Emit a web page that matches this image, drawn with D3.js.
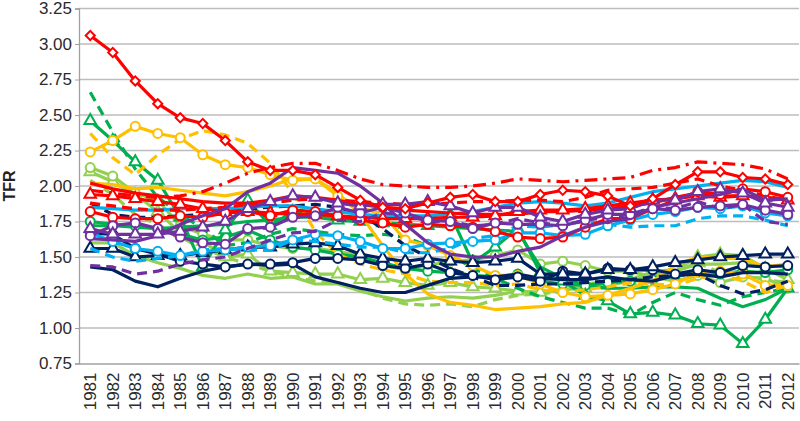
<!DOCTYPE html>
<html lang="en">
<head>
<meta charset="UTF-8">
<title>TFR 1981-2012</title>
<script src="https://cdn.jsdelivr.net/npm/d3@7"></script>
<style>
    html, body {
        margin: 0;
        padding: 0;
        background: #fff;
    }
    svg {
        display: block;
        font-family: "Liberation Sans", Arial, sans-serif;
    }
</style>
</head>
<body>
<svg id="chart" width="800" height="421"></svg>
<script>
    // categories and tick labels
    var years = ['1981','1982','1983','1984','1985','1986','1987','1988','1989','1990',
                 '1991','1992','1993','1994','1995','1996','1997','1998','1999','2000',
                 '2001','2002','2003','2004','2005','2006','2007','2008','2009','2010',
                 '2011','2012']
    var yTicks = [0.75, 1.00, 1.25, 1.50, 1.75, 2.00, 2.25, 2.50, 2.75, 3.00, 3.25]

    // series values
    var lgDashed   = [2.04,1.94,1.80,1.73,1.64,1.56,1.50,1.45,1.40,1.36,1.33,1.32,1.27,1.21,1.17,1.16,1.17,1.15,1.20,1.23,1.24,1.26,1.31,1.33,1.35,1.38,1.40,1.46,1.39,1.37,1.34,1.32]
    var lgSolid    = [1.60,1.60,1.51,1.46,1.42,1.37,1.35,1.38,1.35,1.36,1.31,1.31,1.26,1.22,1.19,1.21,1.22,1.21,1.23,1.26,1.25,1.27,1.29,1.34,1.34,1.37,1.40,1.45,1.45,1.46,1.44,1.43]
    var lgTriangle = [2.10,2.03,1.94,1.82,1.67,1.61,1.50,1.52,1.40,1.39,1.38,1.38,1.34,1.35,1.32,1.30,1.32,1.29,1.28,1.26,1.25,1.27,1.28,1.30,1.33,1.40,1.41,1.50,1.52,1.51,1.42,1.34]
    var lgCircle   = [2.13,2.07,1.95,1.90,1.72,1.66,1.62,1.62,1.58,1.56,1.56,1.54,1.51,1.44,1.41,1.44,1.47,1.48,1.51,1.55,1.45,1.47,1.44,1.40,1.40,1.36,1.33,1.37,1.32,1.36,1.35,1.28]

    var gDashed    = [2.66,2.38,2.12,1.92,1.80,1.70,1.58,1.60,1.66,1.70,1.68,1.66,1.65,1.66,1.64,1.58,1.52,1.42,1.35,1.28,1.22,1.18,1.14,1.14,1.09,1.18,1.25,1.20,1.16,1.22,1.25,1.28]
    var gSolid     = [1.72,1.72,1.71,1.70,1.71,1.72,1.73,1.75,1.76,1.78,1.78,1.76,1.75,1.74,1.73,1.72,1.71,1.70,1.69,1.68,1.43,1.35,1.30,1.28,1.28,1.29,1.29,1.28,1.21,1.15,1.20,1.28]
    var gCircle    = [1.75,1.73,1.72,1.70,1.66,1.62,1.64,1.69,1.62,1.57,1.55,1.52,1.50,1.46,1.42,1.40,1.39,1.37,1.36,1.38,1.33,1.31,1.30,1.32,1.33,1.34,1.37,1.40,1.38,1.40,1.39,1.41]
    var gTriangle  = [2.46,2.32,2.17,2.04,1.78,1.43,1.69,1.90,1.72,1.82,1.80,1.76,1.75,1.74,1.73,1.72,1.80,1.46,1.57,1.70,1.39,1.33,1.23,1.19,1.10,1.11,1.09,1.03,1.02,0.89,1.06,1.28]

    var oSolid     = [2.02,2.01,1.98,1.99,1.97,1.95,1.93,1.96,2.00,2.05,2.05,1.95,1.80,1.58,1.38,1.24,1.18,1.16,1.13,1.14,1.15,1.17,1.18,1.23,1.28,1.33,1.44,1.50,1.49,1.49,1.43,1.45]
    var oDashed    = [2.37,2.20,2.08,2.22,2.33,2.39,2.36,2.30,2.16,1.95,1.68,1.52,1.45,1.41,1.38,1.33,1.32,1.32,1.30,1.31,1.27,1.25,1.27,1.29,1.32,1.31,1.30,1.35,1.38,1.33,1.25,1.30]
    var oCircle    = [2.24,2.32,2.42,2.37,2.34,2.22,2.15,2.13,2.08,2.04,2.05,1.93,1.85,1.80,1.62,1.58,1.51,1.44,1.37,1.37,1.31,1.25,1.22,1.23,1.24,1.27,1.31,1.39,1.40,1.38,1.30,1.30]

    var nDashed    = [1.88,1.80,1.78,1.78,1.79,1.80,1.82,1.84,1.85,1.86,1.87,1.85,1.80,1.70,1.58,1.50,1.42,1.36,1.30,1.30,1.31,1.31,1.32,1.33,1.34,1.36,1.37,1.38,1.30,1.24,1.27,1.33]
    var nSolid     = [1.43,1.41,1.33,1.29,1.35,1.40,1.43,1.45,1.44,1.45,1.36,1.32,1.28,1.25,1.25,1.30,1.35,1.36,1.36,1.38,1.35,1.34,1.34,1.36,1.34,1.33,1.37,1.38,1.36,1.39,1.39,1.38]
    var nCircle    = [1.67,1.66,1.56,1.52,1.47,1.45,1.43,1.45,1.45,1.46,1.49,1.49,1.48,1.44,1.42,1.45,1.39,1.37,1.34,1.36,1.33,1.40,1.38,1.42,1.41,1.41,1.38,1.41,1.39,1.44,1.43,1.44]
    var nTriangle  = [1.56,1.56,1.50,1.51,1.51,1.53,1.55,1.57,1.57,1.59,1.60,1.58,1.52,1.49,1.47,1.49,1.47,1.46,1.47,1.49,1.38,1.38,1.38,1.41,1.41,1.43,1.46,1.48,1.50,1.51,1.52,1.52]

    var bSolid     = [1.85,1.84,1.83,1.83,1.84,1.84,1.84,1.85,1.86,1.86,1.84,1.82,1.80,1.79,1.79,1.79,1.80,1.82,1.85,1.88,1.89,1.88,1.86,1.88,1.92,1.96,1.98,2.00,2.02,2.04,2.03,1.99]
    var bDashed    = [1.56,1.50,1.47,1.49,1.51,1.55,1.56,1.55,1.55,1.62,1.61,1.59,1.57,1.57,1.53,1.53,1.56,1.63,1.65,1.72,1.71,1.73,1.75,1.73,1.71,1.72,1.72,1.77,1.79,1.79,1.76,1.72]
    var bCircle    = [1.67,1.61,1.56,1.54,1.51,1.54,1.55,1.57,1.58,1.62,1.66,1.65,1.61,1.56,1.56,1.59,1.60,1.61,1.62,1.67,1.67,1.65,1.66,1.72,1.76,1.80,1.82,1.85,1.84,1.86,1.81,1.79]

    var rSolid     = [2.02,1.98,1.95,1.93,1.91,1.89,1.88,1.88,1.90,1.93,1.92,1.90,1.87,1.85,1.83,1.82,1.81,1.80,1.80,1.80,1.82,1.82,1.83,1.84,1.86,1.88,1.92,1.95,1.93,1.93,1.92,1.90]
    var rDashed    = [1.88,1.86,1.84,1.83,1.83,1.84,1.85,1.87,1.88,1.90,1.91,1.90,1.89,1.88,1.87,1.87,1.88,1.89,1.89,1.90,1.90,1.89,1.92,1.97,1.98,1.99,2.02,2.05,2.00,1.97,1.93,1.90]
    var rDashDot   = [1.97,1.95,1.93,1.92,1.93,1.96,2.02,2.09,2.13,2.16,2.16,2.11,2.05,2.01,2.00,1.99,1.99,2.00,2.02,2.05,2.04,2.03,2.04,2.05,2.06,2.11,2.13,2.17,2.16,2.15,2.12,2.05]
    var rTriangle  = [1.94,1.93,1.91,1.89,1.87,1.84,1.82,1.82,1.81,1.80,1.80,1.79,1.78,1.77,1.77,1.77,1.78,1.78,1.79,1.82,1.83,1.83,1.84,1.86,1.88,1.90,1.91,1.93,1.92,1.93,1.92,1.90]
    var rCircle    = [1.82,1.78,1.77,1.77,1.79,1.78,1.81,1.82,1.79,1.83,1.82,1.79,1.76,1.74,1.71,1.73,1.72,1.71,1.68,1.64,1.63,1.64,1.71,1.77,1.77,1.84,1.90,1.96,1.94,1.98,1.96,1.92]
    var rDiamond   = [3.06,2.94,2.74,2.58,2.48,2.44,2.32,2.17,2.11,2.11,2.08,1.99,1.90,1.85,1.84,1.88,1.92,1.94,1.89,1.89,1.94,1.97,1.96,1.93,1.86,1.91,2.01,2.10,2.10,2.06,2.05,2.01]

    var pDashed    = [1.44,1.43,1.38,1.40,1.45,1.48,1.50,1.56,1.62,1.67,1.68,1.76,1.75,1.81,1.80,1.75,1.75,1.72,1.73,1.77,1.74,1.72,1.76,1.78,1.80,1.85,1.84,1.89,1.84,1.87,1.75,1.73]
    var pSolid     = [1.63,1.62,1.61,1.65,1.73,1.79,1.84,1.96,2.02,2.13,2.11,2.09,2.00,1.88,1.73,1.60,1.52,1.50,1.50,1.54,1.57,1.65,1.71,1.75,1.77,1.85,1.88,1.91,1.94,1.98,1.90,1.91]
    var pCircle    = [1.65,1.72,1.74,1.70,1.64,1.60,1.59,1.70,1.71,1.78,1.79,1.85,1.81,1.85,1.81,1.76,1.75,1.70,1.74,1.73,1.73,1.72,1.76,1.80,1.80,1.84,1.83,1.85,1.86,1.87,1.83,1.80]
    var pTriangle  = [1.70,1.66,1.66,1.66,1.68,1.71,1.75,1.84,1.89,1.93,1.92,1.88,1.86,1.87,1.87,1.89,1.86,1.81,1.85,1.85,1.78,1.75,1.80,1.83,1.84,1.90,1.90,1.96,1.98,1.95,1.88,1.85]

    // colours
    var colorLightGreen = '#92D050'
    var colorGreen = '#00B050'
    var colorGold = '#FFC000'
    var colorNavy = '#002060'
    var colorLightBlue = '#00B0F0'
    var colorRed = '#FF0000'
    var colorPurple = '#7030A0'

    var dashed = '10,6'
    var dashDot = '13,6,3,6'

    // drawing order, first is at the bottom
    var series = [
        {values: lgDashed,   color: colorLightGreen, dash: dashed,  marker: null},
        {values: lgSolid,    color: colorLightGreen, dash: null,    marker: null},
        {values: lgTriangle, color: colorLightGreen, dash: null,    marker: 'triangle'},
        {values: lgCircle,   color: colorLightGreen, dash: null,    marker: 'circle'},
        {values: gDashed,    color: colorGreen,      dash: dashed,  marker: null},
        {values: gSolid,     color: colorGreen,      dash: null,    marker: null},
        {values: gCircle,    color: colorGreen,      dash: null,    marker: 'circle'},
        {values: gTriangle,  color: colorGreen,      dash: null,    marker: 'triangle'},
        {values: oSolid,     color: colorGold,       dash: null,    marker: null},
        {values: oDashed,    color: colorGold,       dash: dashed,  marker: null},
        {values: oCircle,    color: colorGold,       dash: null,    marker: 'circle'},
        {values: nDashed,    color: colorNavy,       dash: dashed,  marker: null},
        {values: nSolid,     color: colorNavy,       dash: null,    marker: null},
        {values: nCircle,    color: colorNavy,       dash: null,    marker: 'circle'},
        {values: nTriangle,  color: colorNavy,       dash: null,    marker: 'triangle'},
        {values: bSolid,     color: colorLightBlue,  dash: null,    marker: null},
        {values: bDashed,    color: colorLightBlue,  dash: dashed,  marker: null},
        {values: bCircle,    color: colorLightBlue,  dash: null,    marker: 'circle'},
        {values: rSolid,     color: colorRed,        dash: null,    marker: null},
        {values: rDashed,    color: colorRed,        dash: dashed,  marker: null},
        {values: rDashDot,   color: colorRed,        dash: dashDot, marker: null},
        {values: rTriangle,  color: colorRed,        dash: null,    marker: 'triangle'},
        {values: rCircle,    color: colorRed,        dash: null,    marker: 'circle'},
        {values: pDashed,    color: colorPurple,     dash: dashed,  marker: null},
        {values: pSolid,     color: colorPurple,     dash: null,    marker: null},
        {values: pCircle,    color: colorPurple,     dash: null,    marker: 'circle'},
        {values: pTriangle,  color: colorPurple,     dash: null,    marker: 'triangle'},
        {values: rDiamond,   color: colorRed,        dash: null,    marker: 'diamond'}
    ]

    //
    // layout (plot box edges)
    //
    var plotLeft = 79, plotRight = 799, plotTop = 8.5, plotBottom = 363.5
    var svg = d3.select('#chart')

    var x = d3.scaleBand().domain(years).range([plotLeft, plotRight])
    var y = d3.scaleLinear().domain([0.75, 3.25]).range([plotBottom, plotTop])
    function cx(i) { return x(years[i]) + x.bandwidth() / 2 }

    // gridlines
    svg.append('g')
        .selectAll('line')
        .data(yTicks.slice(1))
        .enter().append('line')
        .attr('x1', plotLeft).attr('x2', plotRight)
        .attr('y1', function (d) { return y(d) }).attr('y2', function (d) { return y(d) })
        .attr('stroke', '#bdbdbd')
        .attr('stroke-width', 1.3)

    // y axis
    var yAxis = svg.append('g')
        .attr('transform', 'translate(' + plotLeft + ',0)')
        .call(d3.axisLeft(y).tickValues(yTicks).tickFormat(d3.format('.2f')).tickSize(4).tickPadding(3))
    yAxis.select('.domain').attr('stroke', '#a0a0a0').attr('stroke-width', 1.3)
    yAxis.selectAll('.tick line').attr('stroke', '#a0a0a0')
    yAxis.selectAll('text').attr('fill', '#2b2b2b').style('font-size', '17px')
        .style('font-family', '"Liberation Sans", Arial, sans-serif')

    // x axis
    var xAxis = svg.append('g')
        .attr('transform', 'translate(0,' + plotBottom + ')')
        .call(d3.axisBottom(x).tickSize(0))
    xAxis.select('.domain').attr('stroke', '#a0a0a0').attr('stroke-width', 1.3)
    xAxis.selectAll('text')
        .attr('x', -9).attr('y', 0).attr('dy', '0.36em')
        .attr('transform', 'rotate(-90)')
        .style('text-anchor', 'end')
        .attr('fill', '#2b2b2b')
        .style('font-size', '17px')
        .style('font-family', '"Liberation Sans", Arial, sans-serif')

    // axis title
    svg.append('text')
        .attr('transform', 'translate(15,186) rotate(-90)')
        .attr('text-anchor', 'middle')
        .style('font-weight', 'bold')
        .style('font-size', '16px')
        .attr('fill', '#222')
        .text('TFR')

    //
    // series
    //
    var line = d3.line()
        .x(function (d, i) { return cx(i) })
        .y(function (d) { return y(d) })

    var symTriangle = d3.symbol().type(d3.symbolTriangle).size(58)
    // square turned 45 degrees gives the even diamond Excel draws
    var symDiamond = d3.symbol().type(d3.symbolSquare).size(42)

    series.forEach(function (s) {
        var g = svg.append('g')
        g.append('path')
            .attr('d', line(s.values))
            .attr('fill', 'none')
            .attr('stroke', s.color)
            .attr('stroke-width', 3.2)
            .attr('stroke-linejoin', 'round')
            .attr('stroke-dasharray', s.dash)

        if (!s.marker) return
        var marks = g.append('g')
        var pts = marks.selectAll('.m')
            .data(s.values)
            .enter()
        if (s.marker === 'circle') {
            pts.append('circle')
                .attr('cx', function (d, i) { return cx(i) })
                .attr('cy', function (d) { return y(d) })
                .attr('r', 4.5)
        } else if (s.marker === 'triangle') {
            pts.append('path')
                .attr('d', symTriangle)
                .attr('transform', function (d, i) { return 'translate(' + cx(i) + ',' + y(d) + ')' })
        } else {
            pts.append('path')
                .attr('d', symDiamond)
                .attr('transform', function (d, i) { return 'translate(' + cx(i) + ',' + y(d) + ') rotate(45)' })
        }
        marks.selectAll('circle, path')
            .attr('fill', '#fff')
            .attr('stroke', s.color)
            .attr('stroke-width', 2)
    })
</script>
</body>
</html>
